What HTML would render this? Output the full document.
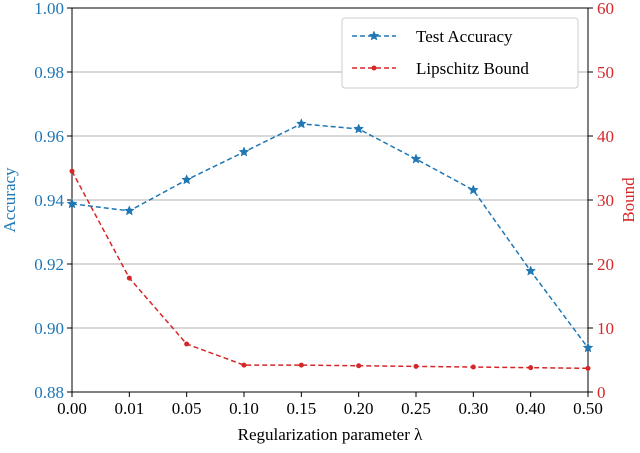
<!DOCTYPE html>
<html><head><meta charset="utf-8"><style>
body{margin:0;background:#fff}
svg text{font-family:"Liberation Serif",serif;font-size:17px}
</style></head><body>
<svg id="chart" width="640" height="448" xmlns="http://www.w3.org/2000/svg"></svg>
<script>
const categories=["0.00","0.01","0.05","0.10","0.15","0.20","0.25","0.30","0.40","0.50"];
const accuracy=[0.9388,0.9366,0.9463,0.9550,0.9638,0.9622,0.9528,0.9431,0.9178,0.8938];
const bound=[34.5,17.8,7.5,4.2,4.2,4.1,4.0,3.9,3.8,3.7];
const leftTicks=["0.88","0.90","0.92","0.94","0.96","0.98","1.00"];
const rightTicks=["0","10","20","30","40","50","60"];
const L=72,R=588,T=8,B=392,blue="#1f77b4",red="#d62728";
const svg=document.getElementById('chart');const NS="http://www.w3.org/2000/svg";
function el(t,a,p){const e=document.createElementNS(NS,t);for(const k in a)e.setAttribute(k,a[k]);(p||svg).appendChild(e);return e;}
const xS=i=>L+i*(R-L)/(categories.length-1);
const yL=v=>B-(v-0.88)/(0.12)*(B-T);
const yR=v=>B-v/60*(B-T);
leftTicks.forEach(t=>{const y=yL(+t);
 const g=el('line',{x1:L,x2:R,y1:y,y2:y,stroke:"#b0b0b0","stroke-width":1});
 
 el('line',{x1:L-5,x2:L,y1:y,y2:y,stroke:"#000"});
 const tx=el('text',{x:L-8,y:y+6,"text-anchor":"end",fill:blue});tx.textContent=t;
 });
rightTicks.forEach(t=>{const y=yR(+t);
 el('line',{x1:R,x2:R+5,y1:y,y2:y,stroke:"#000"});
 const tx=el('text',{x:R+9,y:y+6,fill:red});tx.textContent=t;
 });
categories.forEach((c,i)=>{const x=xS(i);
 el('line',{x1:x,x2:x,y1:B,y2:B+5,stroke:"#000"});
 const tx=el('text',{x:x,y:B+22,"text-anchor":"middle"});tx.textContent=c;
 });
const fr=el('rect',{x:L,y:T,width:R-L,height:B-T,fill:"none",stroke:"#000","stroke-width":1});

function star(cx,cy,r,c,p){let pts=[];for(let k=0;k<10;k++){const a=-Math.PI/2+k*Math.PI/5,rr=k%2?r*0.45:r;pts.push((cx+rr*Math.cos(a)).toFixed(1)+","+(cy+rr*Math.sin(a)).toFixed(1));}
 return el('polygon',{points:pts.join(' '),fill:c,stroke:c,"stroke-width":0.5},p);}
const la=el('polyline',{points:accuracy.map((v,i)=>xS(i)+","+yL(v)).join(' '),fill:"none",stroke:blue,"stroke-width":1.5,"stroke-dasharray":"5,3"});

accuracy.forEach((v,i)=>{const s=star(xS(i),yL(v),5,blue);});
const lb=el('polyline',{points:bound.map((v,i)=>xS(i)+","+yR(v)).join(' '),fill:"none",stroke:red,"stroke-width":1.5,"stroke-dasharray":"5,3"});

bound.forEach((v,i)=>{const c=el('circle',{cx:xS(i),cy:yR(v),r:2.5,fill:red});});
const lg=el('g',{});
el('rect',{x:342,y:18,width:236,height:70,rx:3,fill:"#fff",stroke:"#ccc"},lg);
el('line',{x1:352,x2:396,y1:36,y2:36,stroke:blue,"stroke-width":1.5,"stroke-dasharray":"5,3"},lg);star(374,36,5,blue,lg);
let t1=el('text',{x:416,y:42},lg);t1.textContent="Test Accuracy";
el('line',{x1:352,x2:396,y1:68,y2:68,stroke:red,"stroke-width":1.5,"stroke-dasharray":"5,3"},lg);el('circle',{cx:374,cy:68,r:2.5,fill:red},lg);
let t2=el('text',{x:416,y:74},lg);t2.textContent="Lipschitz Bound";
const xt=el('text',{x:(L+R)/2,y:440,"text-anchor":"middle"});xt.textContent="Regularization parameter λ";

const yt=el('text',{x:0,y:0,"text-anchor":"middle",fill:blue,transform:`translate(15,200) rotate(-90)`});yt.textContent="Accuracy";

const yr=el('text',{x:0,y:0,"text-anchor":"middle",fill:red,transform:`translate(634,200) rotate(-90)`});yr.textContent="Bound";

</script>
</body></html>
